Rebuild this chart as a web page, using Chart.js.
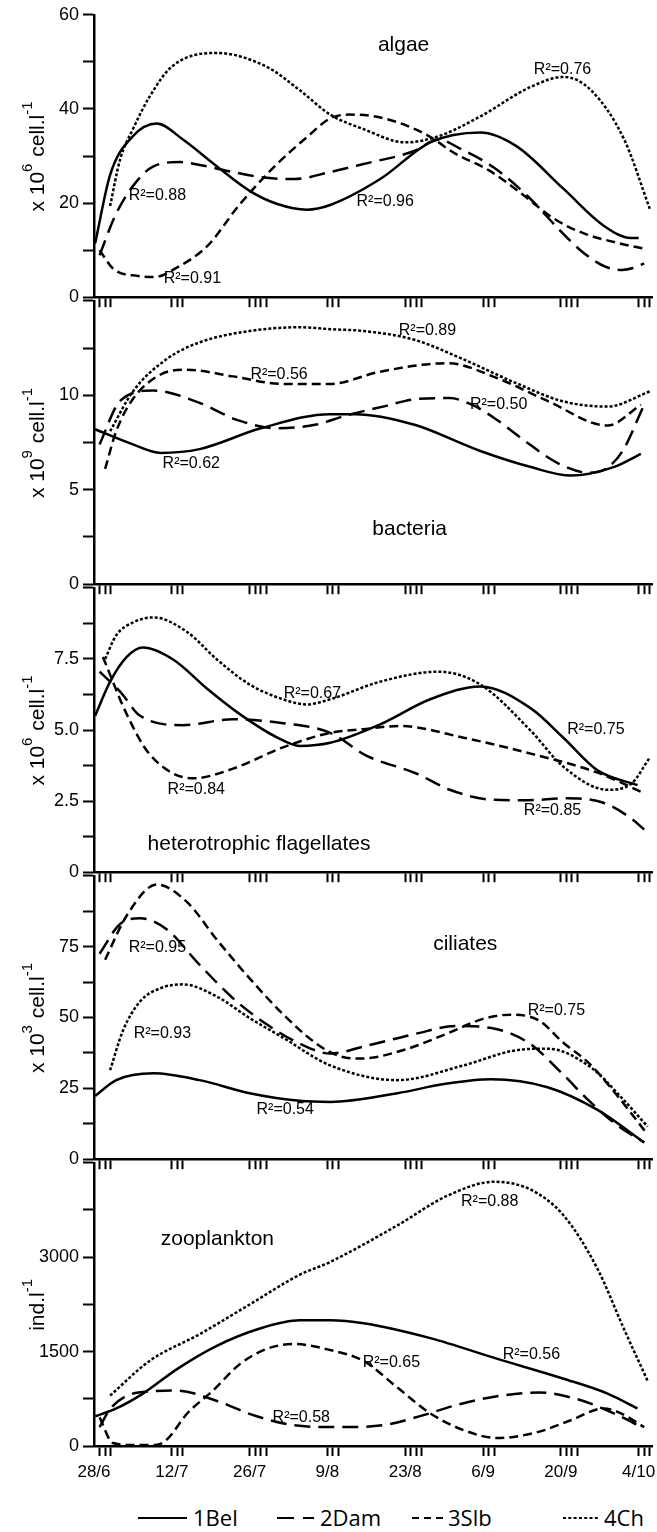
<!DOCTYPE html>
<html>
<head>
<meta charset="utf-8">
<script src="https://cdn.jsdelivr.net/npm/chart.js@4"></script>
<style>
  body { margin: 0; background: #fff; }
  #wrap { position: relative; width: 657px; height: 1532px; overflow: hidden; background: #fff; }
  #wrap canvas { position: absolute; left: 0; }
  .leg-line { position: absolute; }
  .leg-text { position: absolute; font: 22px "Open Sans", "Liberation Sans", sans-serif; color: #000; line-height: 1; }
</style>
</head>
<body>
<div id="wrap"></div>
<script>
// x values are days counted from 28/6
const dateLabels = ['28/6', '12/7', '26/7', '9/8', '23/8', '6/9', '20/9', '4/10'];
const labelDays = [0, 14, 28, 42, 56, 70, 84, 98];
const samplingDays = [1, 2, 3, 14, 15, 16, 28, 29, 30, 31, 42, 43, 44, 56, 57, 58, 59,
                      70, 71, 72, 84, 85, 86, 87, 98, 99, 100];
const seriesNames = ['1Bel', '2Dam', '3Slb', '4Ch'];

// algae, x 10^6 cell/l
const algaeBel = [[0.2,11.4],[2.9,26],[7,34.2],[11.3,36.9],[16,33.5],[22,27.9],[28,22.6],[33,19.8],[38.3,18.6],[42.5,19.6],[51.5,25.1],[60.5,32.9],[69.5,35.0],[76,32.1],[84.5,23],[91.7,15.2],[96.6,12.6],[98,12.6]];
const algaeDam = [[1,8.9],[3.8,17.3],[7,23.6],[10.7,27.8],[15.5,28.7],[20.3,27.8],[25,26.6],[30,25.5],[36,25.1],[42.5,26.6],[48.5,28.3],[57.5,31],[62,33.5],[66,31.5],[72,27.5],[78,21.5],[84,14],[88,9.5],[92,6.5],[95,5.8],[97,6.2],[99,7.2]];
const algaeSlb = [[1,10],[3.5,6],[8,4.5],[11,4.3],[14.5,6],[20.5,11],[26,19.4],[32.5,27.8],[38.5,34.2],[42.5,38],[46,38.8],[50,38.5],[55,37],[60,34.4],[65,30.5],[71,27],[76.5,22.4],[83,16.5],[88.5,13.4],[94,11.6],[99,10.3]];
const algaeCh = [[2.9,19.4],[4.7,29.3],[7,35.7],[10,42.6],[14,49],[22,51.9],[31,49],[37,44],[42.5,38.8],[48.5,35.7],[56,32.9],[62,34.2],[69.5,38.4],[78.6,44.7],[84.5,46.8],[89.4,44],[95.4,33.5],[100,18.8]];

// bacteria, x 10^9 cell/l
const bactBel = [[0.2,8.2],[7,7.4],[12,6.95],[19,7.15],[30,8.25],[42.5,9.0],[47,9.0],[57.5,8.45],[69.5,7.05],[78.6,6.2],[85.8,5.75],[93.5,6.2],[98.4,6.9]];
const bactDam = [[1,7.4],[4.7,9.7],[10.7,10.25],[19,9.6],[25.7,8.7],[33,8.25],[40,8.45],[45,8.9],[52,9.4],[58,9.8],[64,9.85],[68,9.5],[72,8.8],[77,7.7],[83.5,6.4],[89,5.9],[92,6.1],[95,7.0],[99,9.5]];
const bactSlb = [[2,6.1],[4,8.1],[7,9.8],[12,11.1],[16.7,11.35],[25,11.0],[34,10.6],[42.5,10.6],[51.5,11.25],[63.6,11.7],[72.6,10.9],[81.6,9.7],[92.4,8.4],[98.4,9.5]];
const bactCh = [[2.9,8.1],[7,10.2],[13,11.9],[19,12.8],[28,13.4],[37,13.6],[42.5,13.5],[48.5,13.4],[57.5,12.95],[66.5,11.9],[75.5,10.7],[84.5,9.67],[92.4,9.4],[100,10.2]];

// heterotrophic flagellates, x 10^6 cell/l
const hfBel = [[0.2,5.5],[2.9,6.7],[5.9,7.57],[8.8,7.9],[14.3,7.47],[20.3,6.46],[26.3,5.55],[33,4.73],[37,4.44],[42.5,4.55],[51.5,5.2],[60.5,6.08],[69.5,6.53],[78.6,5.76],[84.5,4.72],[90.6,3.58],[97.8,3.06]];
const hfDam = [[1,7.05],[4.7,6.35],[8.3,5.5],[16,5.17],[25,5.38],[34,5.24],[42.5,4.9],[49,4.1],[58,3.47],[64,2.9],[71.5,2.55],[78,2.53],[85,2.6],[91.5,2.45],[96.6,1.9],[99,1.5]];
const hfSlb = [[1.6,7.57],[5.9,5.55],[10,4.15],[17.8,3.3],[25,3.64],[34,4.39],[42.5,4.9],[48.5,5.03],[55,5.14],[66.5,4.73],[78.6,4.17],[90.6,3.5],[99,2.78]];
const hfCh = [[2,7.5],[4,8.33],[7,8.78],[10.7,8.96],[16.8,8.44],[22,7.5],[28,6.6],[34,6.08],[38.3,5.9],[42.5,6.08],[51.5,6.7],[62,7.05],[69.5,6.6],[78.6,4.97],[84.5,3.7],[92.4,2.9],[96.6,3.1],[100,4.03]];

// ciliates, x 10^3 cell/l
const cilBel = [[0.2,22.3],[4,27.9],[10.7,30.3],[19,27.9],[28,23.3],[37,20.6],[42.5,20.2],[54.6,23.3],[63,26.5],[71.4,28.2],[81.6,25.4],[90.6,17.4],[99,5.9]];
const cilDam = [[1,72.5],[4.7,83],[8.3,85],[13,81.2],[19,68.6],[25,56.8],[31,47.7],[37,40.8],[42.5,37.3],[49,40],[58,44.3],[65,47],[71.5,46.3],[78.4,40.8],[84,30.7],[89.3,20.2],[94,12.2],[99,5.9]];
const cilSlb = [[2,70.4],[5.9,86],[11.3,96.9],[16.8,90.6],[22,77.7],[28,63.8],[34,51.2],[40,40.8],[44,36.5],[48,35.5],[56,38.7],[63.5,44.3],[70,49.5],[75,51],[80,49],[84.5,41],[89,34],[93.5,24],[99.5,9]];
const cilCh = [[2.9,31.4],[5.2,45.3],[8.3,55.7],[11.9,60.3],[16,61.7],[22,57.5],[28,49.8],[34,42.9],[42.5,33.1],[54.6,27.9],[66.5,33.1],[75.5,38.3],[81.6,39],[89.4,32.4],[95.3,20.9],[99.6,11.5]];

// zooplankton, ind/l
const zooBel = [[0.2,472],[4,597],[8.8,833],[15,1226],[22,1588],[30,1871],[37,1997],[42.5,1997],[48.5,1950],[60.5,1714],[72.6,1384],[84.5,1069],[92.4,833],[97.8,597]];
const zooDam = [[1,300],[3,600],[8,850],[15,880],[22,720],[29,480],[36,330],[44,300],[52,330],[58.5,470],[65,645],[72.5,790],[80,850],[87.5,730],[94,500],[98.5,300]];
const zooSlb = [[1,455],[3.4,47],[7,16],[11,16],[13,94],[16.8,520],[21.4,880],[26.3,1305],[31,1541],[36,1620],[42.5,1525],[48.5,1352],[54.6,928],[60.5,519],[66.5,252],[72.6,126],[79.8,220],[85.8,409],[91.7,597],[94.8,519],[99,300]];
const zooCh = [[2.9,802],[10,1352],[19,1777],[28,2248],[37,2720],[42.5,2925],[54.6,3506],[63.6,3978],[72,4198],[78.6,4072],[84.5,3663],[90.6,2814],[95.3,1871],[99.6,1038]];

// text notes [day, value, text]
const algaeNotes = [[55.7,53.6,'algae'],[11.4,21.5,'R²=0.88'],[17.7,4.0,'R²=0.91'],[52.4,20.3,'R²=0.96'],[84.3,48.3,'R²=0.76']];
const bactNotes = [[56.8,2.9,'bacteria'],[33.3,11.1,'R²=0.56'],[17.5,6.4,'R²=0.62'],[60,13.4,'R²=0.89'],[72.8,9.5,'R²=0.50']];
const hfNotes = [[29.7,0.97,'heterotrophic flagellates'],[39.3,6.28,'R²=0.67'],[18.4,2.92,'R²=0.84'],[90.3,5.03,'R²=0.75'],[82.5,2.15,'R²=0.85']];
const cilNotes = [[66.8,76,'ciliates'],[11.4,74.6,'R²=0.95'],[12.3,44.3,'R²=0.93'],[34.4,17.4,'R²=0.54'],[83.2,52.6,'R²=0.75']];
const zooNotes = [[22.2,3286,'zooplankton'],[71.2,3884,'R²=0.88'],[53.5,1321,'R²=0.65'],[78.7,1447,'R²=0.56'],[37.3,456,'R²=0.58']];

const FONT = '"Liberation Sans", Arial, sans-serif';
const dashes = [[], [16, 8], [9, 5], [3, 2]];

const panels = [
  { series: [algaeBel, algaeDam, algaeSlb, algaeCh], top: 12, bottom: 298, max: 60, step: 10,
    shown: [0, 20, 40, 60], dec: 0, exp: '6', unit: 'cell.l', notes: algaeNotes },
  { series: [bactBel, bactDam, bactSlb, bactCh], top: 298, bottom: 585, max: 15, step: 2.5,
    shown: [0, 5, 10], dec: 0, exp: '9', unit: 'cell.l', notes: bactNotes },
  { series: [hfBel, hfDam, hfSlb, hfCh], top: 585, bottom: 873, max: 10, step: 1.25,
    shown: [0, 2.5, 5, 7.5], dec: 1, exp: '6', unit: 'cell.l', notes: hfNotes },
  { series: [cilBel, cilDam, cilSlb, cilCh], top: 873, bottom: 1160, max: 100, step: 12.5,
    shown: [0, 25, 50, 75], dec: 0, exp: '3', unit: 'cell.l', notes: cilNotes },
  { series: [zooBel, zooDam, zooSlb, zooCh], top: 1160, bottom: 1446, max: 4500, step: 750,
    shown: [0, 1500, 3000], dec: 0, exp: null, unit: 'ind.l', notes: zooNotes }
];

const wrap = document.getElementById('wrap');

function textPlugin(p) {
  return {
    id: 'panelText',
    afterDatasetsDraw(chart) {
      const { ctx, chartArea, scales } = chart;
      ctx.save();
      ctx.fillStyle = '#000';
      ctx.textAlign = 'center';
      ctx.textBaseline = 'middle';
      p.notes.forEach(([d, v, txt]) => {
        ctx.font = (txt.startsWith('R') ? 16 : 21) + 'px ' + FONT;
        ctx.fillText(txt, scales.x.getPixelForValue(d), scales.y.getPixelForValue(v));
      });
      // rotated y title with superscripts
      const parts = p.exp
        ? [{ t: 'x 10' }, { t: p.exp, sup: true }, { t: ' ' + p.unit }, { t: '-1', sup: true }]
        : [{ t: p.unit }, { t: '-1', sup: true }];
      let total = 0;
      parts.forEach(q => {
        ctx.font = (q.sup ? 15 : 21) + 'px ' + FONT;
        q.w = ctx.measureText(q.t).width + (q.sup ? 1 : 0);
        total += q.w;
      });
      ctx.translate(38, (chartArea.top + chartArea.bottom) / 2);
      ctx.rotate(-Math.PI / 2);
      ctx.textAlign = 'left';
      let x = -total / 2;
      parts.forEach(q => {
        ctx.font = (q.sup ? 15 : 21) + 'px ' + FONT;
        ctx.fillText(q.t, x, q.sup ? -10 : 0);
        x += q.w;
      });
      ctx.restore();
    }
  };
}

panels.forEach((p, i) => {
  const last = i === panels.length - 1;
  const padTop = 12;
  const xH = last ? 42 : 14;
  const canvas = document.createElement('canvas');
  const h = padTop + (p.bottom - p.top) + xH;
  canvas.width = 657;
  canvas.height = h;
  canvas.style.top = (p.top - padTop) + 'px';
  wrap.appendChild(canvas);

  new Chart(canvas, {
    type: 'line',
    data: {
      datasets: p.series.map((s, k) => ({
        label: seriesNames[k],
        data: s.map(([x, y]) => ({ x, y })),
        borderColor: '#000',
        borderWidth: 2.5,
        borderDash: dashes[k],
        pointRadius: 0,
        fill: false,
        cubicInterpolationMode: 'monotone'
      }))
    },
    options: {
      responsive: false,
      animation: false,
      layout: { padding: { top: padTop, right: 5, left: 0, bottom: 0 } },
      plugins: { legend: { display: false }, tooltip: { enabled: false } },
      scales: {
        x: {
          type: 'linear',
          min: 0,
          max: 100.4,
          afterBuildTicks: axis => {
            const vals = [...new Set([...labelDays, ...samplingDays])].sort((a, b) => a - b);
            axis.ticks = vals.map(v => ({ value: v }));
          },
          afterFit: s => { s.height = xH; },
          ticks: {
            autoSkip: false,
            maxRotation: 0,
            minRotation: 0,
            padding: 6,
            color: '#000',
            font: { family: FONT, size: 17 },
            callback: v => {
              if (!last) return '';
              const k = labelDays.indexOf(v);
              return k >= 0 ? dateLabels[k] : '';
            }
          },
          grid: {
            drawOnChartArea: false,
            drawTicks: true,
            tickLength: 10,
            tickWidth: 2,
            tickColor: c => (c.tick && samplingDays.includes(c.tick.value)) ? '#000' : 'rgba(0,0,0,0)',
            color: 'rgba(0,0,0,0)'
          },
          border: { display: true, color: '#000', width: 2.5 }
        },
        y: {
          min: 0,
          max: p.max,
          afterFit: s => { s.width = 94; },
          ticks: {
            stepSize: p.step,
            padding: 4,
            color: '#000',
            font: { family: FONT, size: 18 },
            callback: v => p.shown.some(t => Math.abs(t - v) < 1e-6)
              ? (v === 0 ? '0' : v.toFixed(p.dec)) : ''
          },
          grid: {
            drawOnChartArea: false,
            drawTicks: true,
            tickLength: 11,
            tickWidth: 2,
            tickColor: '#000',
            color: 'rgba(0,0,0,0)'
          },
          border: { display: true, color: '#000', width: 2.5 }
        }
      }
    },
    plugins: [textPlugin(p)]
  });
});

// legend
const legendLines = [[138, 187], [277, 314], [412, 444], [563, 600]];
const legendTextX = [193, 320, 448, 604];
const legendY = 1518;
seriesNames.forEach((name, k) => {
  const [x1, x2] = legendLines[k];
  const svg = document.createElementNS('http://www.w3.org/2000/svg', 'svg');
  svg.setAttribute('class', 'leg-line');
  svg.setAttribute('width', x2 - x1);
  svg.setAttribute('height', 6);
  svg.style.left = x1 + 'px';
  svg.style.top = (legendY - 3) + 'px';
  const ln = document.createElementNS('http://www.w3.org/2000/svg', 'line');
  ln.setAttribute('x1', 0);
  ln.setAttribute('x2', x2 - x1);
  ln.setAttribute('y1', 3);
  ln.setAttribute('y2', 3);
  ln.setAttribute('stroke', '#000');
  ln.setAttribute('stroke-width', 2);
  const legDash = [null, '17 9', '7 5', '3 2.3'][k];
  if (legDash) ln.setAttribute('stroke-dasharray', legDash);
  svg.appendChild(ln);
  wrap.appendChild(svg);

  const span = document.createElement('span');
  span.className = 'leg-text';
  span.textContent = name;
  span.style.left = legendTextX[k] + 'px';
  span.style.top = (legendY - 12) + 'px';
  wrap.appendChild(span);
});
</script>
</body>
</html>
